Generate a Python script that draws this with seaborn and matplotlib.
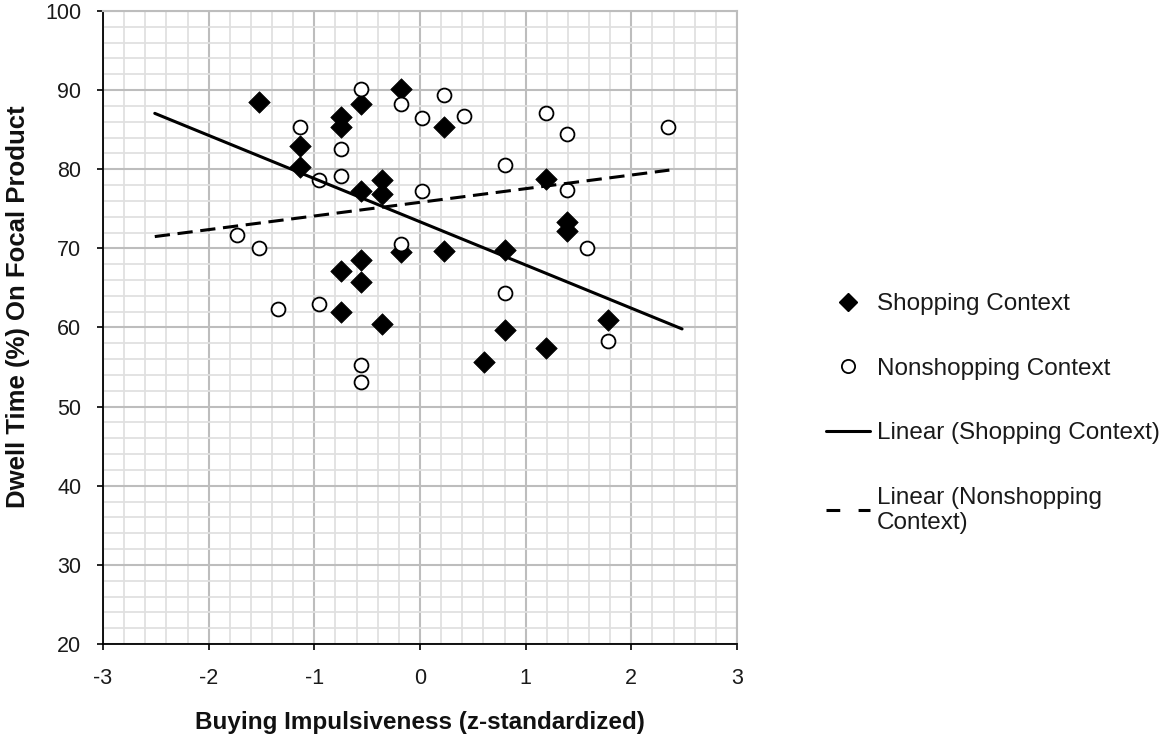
import numpy as np
import pandas as pd
import matplotlib
matplotlib.use("Agg")
import matplotlib.pyplot as plt
import seaborn as sns
from matplotlib.lines import Line2D
from matplotlib.ticker import MultipleLocator

# ---- data ----
shop_x = [-1.52, -1.14, -1.14, -0.75, -0.75, -0.56, -0.18, -0.56, -0.36, -0.36,
          -0.18, -0.56, -0.75, -0.56, -0.75, -0.36, 0.23, 1.19, 1.39, 1.39,
          0.23, 0.80, 1.78, 0.80, 1.19, 0.61]
shop_y = [88.5, 82.9, 80.3, 86.6, 85.3, 88.2, 90.1, 77.3, 78.6, 76.9,
          69.5, 68.5, 67.1, 65.7, 61.9, 60.5, 85.4, 78.8, 73.3, 72.2,
          69.7, 69.8, 61.0, 59.7, 57.4, 55.6]

non_x = [-0.56, -0.18, -1.14, -0.75, -0.75, -0.96, -1.73, -1.52, -0.18, -1.34,
         -0.96, 0.23, 0.02, 0.42, 1.19, 1.39, 2.35, 0.80, 0.02, 1.39,
         1.58, 0.80, 1.78, -0.56, -0.56]
non_y = [90.1, 88.2, 85.4, 82.6, 79.2, 78.7, 71.7, 70.0, 70.5, 62.4,
         63.0, 89.4, 86.5, 86.7, 87.1, 84.4, 85.3, 80.6, 77.2, 77.4,
         70.0, 64.3, 58.3, 55.3, 53.1]

# trend lines (slope, intercept, x-range)
shop_trend = dict(slope=-5.46, intercept=73.36, x0=-2.51, x1=2.48)
non_trend = dict(slope=1.725, intercept=75.82, x0=-2.51, x1=2.36)

labels = ["Shopping Context", "Nonshopping Context",
          "Linear (Shopping Context)", "Linear (Nonshopping\nContext)"]
x_label = "Buying Impulsiveness (z-standardized)"
y_label = "Dwell Time (%) On Focal Product"

# ---- build tables ----
df = pd.concat([
    pd.DataFrame({"x": shop_x, "y": shop_y, "group": labels[0]}),
    pd.DataFrame({"x": non_x, "y": non_y, "group": labels[1]}),
], ignore_index=True)

def trend_df(t, name):
    xs = np.array([t["x0"], t["x1"]])
    return pd.DataFrame({"x": xs, "y": t["slope"] * xs + t["intercept"], "group": name})

sns.set_theme(style="white")
plt.rcParams["font.family"] = ["Liberation Sans", "DejaVu Sans"]
plt.rcParams["axes.unicode_minus"] = False

fig = plt.figure(figsize=(11.67, 7.40), dpi=100)
ax = fig.add_axes([103 / 1167, 1 - 644 / 740, (737 - 103) / 1167, (644 - 11) / 740])

major_c = "#bdbdbd"
minor_c = "#e0e0e0"
ax.set_xlim(-3, 3)
ax.set_ylim(20, 100)
ax.xaxis.set_major_locator(MultipleLocator(1))
ax.xaxis.set_minor_locator(MultipleLocator(0.2))
ax.yaxis.set_major_locator(MultipleLocator(10))
ax.yaxis.set_minor_locator(MultipleLocator(2))
ax.grid(which="minor", color=minor_c, linewidth=1.3, zorder=0)
ax.grid(which="major", color=major_c, linewidth=1.5, zorder=0)
ax.set_axisbelow(True)

sns.scatterplot(data=df[df.group == labels[0]], x="x", y="y", marker="D",
                s=120, color="black", edgecolor="black", linewidth=0.5,
                ax=ax, zorder=3, legend=False)
sns.scatterplot(data=df[df.group == labels[1]], x="x", y="y", marker="o",
                s=100, facecolor="white", edgecolor="black", linewidth=1.3,
                ax=ax, zorder=3, legend=False)

sns.lineplot(data=trend_df(shop_trend, labels[2]), x="x", y="y", color="black",
             linewidth=2.2, ax=ax, zorder=4, legend=False)
sns.lineplot(data=trend_df(non_trend, labels[3]), x="x", y="y", color="black",
             linewidth=2.2, linestyle=(0, (5, 2.5)), ax=ax, zorder=4, legend=False)

for side in ["left", "bottom"]:
    ax.spines[side].set_color("black")
    ax.spines[side].set_linewidth(1.3)
for side in ["top", "right"]:
    ax.spines[side].set_color(major_c)
    ax.spines[side].set_linewidth(1.5)

ax.tick_params(axis="both", which="major", direction="out", length=4.5, width=1.2,
               color="black", labelsize=15.5, labelcolor="#1a1a1a",
               bottom=True, left=True)
ax.tick_params(axis="x", which="major", pad=13)
ax.tick_params(axis="y", which="major", pad=11)
ax.tick_params(axis="both", which="minor", length=0)
ax.set_xticks(range(-3, 4))
ax.set_yticks(range(20, 101, 10))

ax.set_xlabel(x_label, fontsize=17.5, fontweight="bold", color="#111111")
ax.set_ylabel(y_label, fontsize=18.5, fontweight="bold", color="#111111")
ax.xaxis.set_label_coords(0.5, (644 - 723) / 633, transform=ax.transAxes)
ax.yaxis.set_label_coords((18 - 103) / 634, (644 - 307) / 633, transform=ax.transAxes)
ax.xaxis.label.set_va("center")
ax.yaxis.label.set_va("center")

handles = [
    Line2D([], [], marker="D", color="black", linestyle="none", markersize=9),
    Line2D([], [], marker="o", markerfacecolor="white", markeredgecolor="black",
           markeredgewidth=1.3, linestyle="none", markersize=9.5),
    Line2D([], [], color="black", linewidth=2.2),
    Line2D([], [], color="black", linewidth=2.2, linestyle=(0, (4.5, 6))),
]
fig.legend(handles, labels, loc="upper left", bbox_to_anchor=(826 / 1167, 1 - 293 / 740),
           frameon=False, fontsize=17.5, handlelength=1.8, handletextpad=0.3,
           labelspacing=1.75, borderaxespad=0, borderpad=0, labelcolor="#1a1a1a")

fig.savefig("out.png", dpi=100)
